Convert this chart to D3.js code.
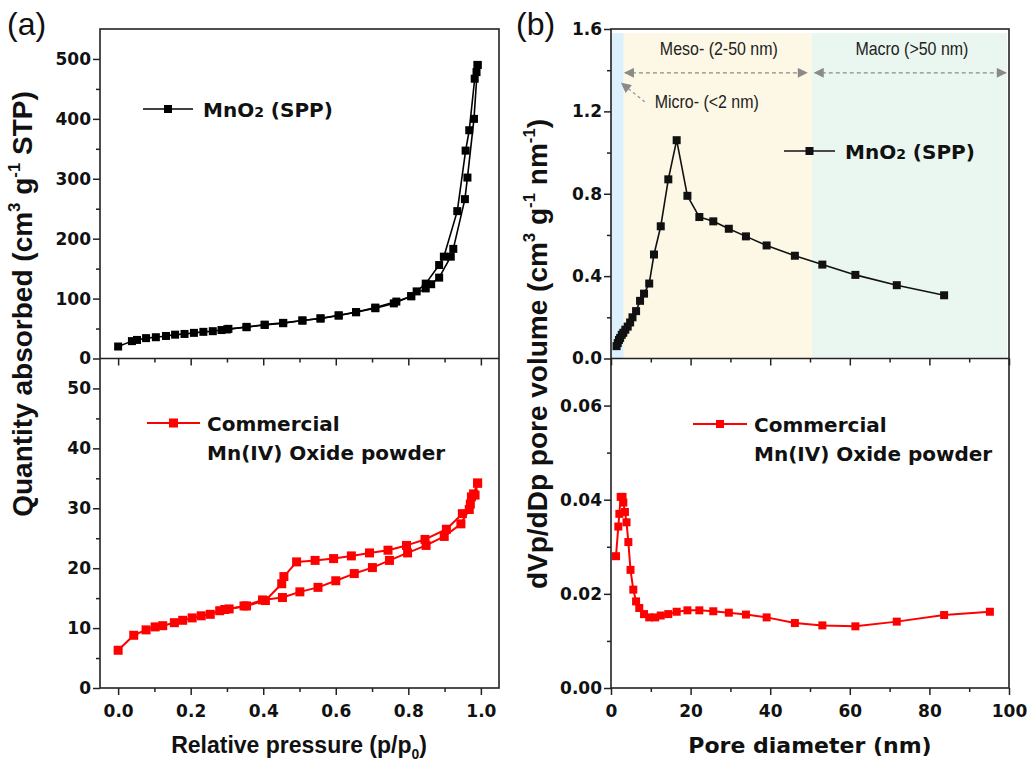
<!DOCTYPE html>
<html lang="en">
<head>
<meta charset="UTF-8">
<title>MnO2 isotherms and pore size distribution</title>
<style>
  body { margin: 0; background: #fff; }
  .tk text { font-family: "DejaVu Sans", sans-serif; font-weight: bold; font-size: 17px; fill: #111; }
  .tk line { stroke: #222; stroke-width: 1.5; }
</style>
</head>
<body>
<svg width="1027" height="764"></svg>
<script src="https://d3js.org/d3.v7.min.js"></script>
<script>
// ---- data ----
// (a) top: MnO2 (SPP) isotherm
var sppAdsP = [0.0, 0.038, 0.052, 0.077, 0.104, 0.132, 0.157, 0.183, 0.209, 0.235, 0.261, 0.285, 0.304, 0.354, 0.404, 0.455, 0.508, 0.558, 0.608, 0.656, 0.709, 0.760, 0.808, 0.848, 0.863, 0.885, 0.917, 0.924, 0.956, 0.963, 0.981, 0.991];
var sppAdsV = [20, 29, 31, 34, 35.5, 37.6, 39.8, 41, 42.8, 44.5, 45.6, 47.5, 49.5, 52.2, 56, 58.9, 63.3, 66.7, 71.7, 77.2, 83.9, 92, 104, 117, 124, 135, 170, 183, 266, 302, 400, 490];
var sppDesP = [0.991, 0.988, 0.983, 0.968, 0.958, 0.935, 0.898, 0.885, 0.848, 0.823, 0.808, 0.767, 0.709, 0.656, 0.608, 0.558, 0.508, 0.455, 0.404, 0.354, 0.300];
var sppDesV = [490, 478, 467, 381, 347, 246, 170, 156, 125, 112, 104, 95, 85, 77.5, 72, 67, 63.5, 59.5, 56.5, 52.8, 48.5];

// (a) bottom: commercial Mn(IV) oxide isotherm
var comAdsP = [0.0, 0.043, 0.077, 0.102, 0.123, 0.155, 0.178, 0.204, 0.229, 0.254, 0.280, 0.306, 0.347, 0.398, 0.453, 0.501, 0.551, 0.600, 0.651, 0.701, 0.748, 0.798, 0.849, 0.899, 0.945, 0.968, 0.974, 0.984, 0.991];
var comAdsV = [6.3, 8.8, 9.7, 10.2, 10.4, 10.9, 11.3, 11.7, 12.05, 12.3, 12.9, 13.2, 13.7, 14.7, 15.1, 16.05, 16.8, 17.9, 19.1, 20.1, 21.3, 22.55, 23.8, 25.3, 27.4, 29.8, 31.9, 32.2, 34.2];
var comDesP = [0.991, 0.980, 0.971, 0.949, 0.905, 0.846, 0.795, 0.744, 0.693, 0.643, 0.594, 0.543, 0.492, 0.457, 0.451, 0.406, 0.354, 0.294];
var comDesV = [34.2, 32.4, 30.7, 29.1, 26.5, 24.8, 23.8, 23.0, 22.55, 22.05, 21.6, 21.3, 21.05, 18.6, 17.4, 14.6, 13.7, 13.1];

// (b) top: MnO2 (SPP) pore size distribution
var sppD = [1.4, 1.7, 2.0, 2.3, 2.7, 3.1, 3.6, 4.2, 4.8, 5.4, 6.3, 7.3, 8.3, 9.6, 10.8, 12.5, 14.4, 16.5, 19.2, 22.2, 25.7, 29.6, 33.9, 39.1, 46.2, 53.1, 61.4, 71.8, 83.7];
var sppPV = [0.06, 0.075, 0.09, 0.10, 0.115, 0.125, 0.14, 0.155, 0.175, 0.2, 0.23, 0.28, 0.315, 0.364, 0.505, 0.642, 0.87, 1.06, 0.79, 0.687, 0.666, 0.63, 0.593, 0.549, 0.499, 0.456, 0.406, 0.356, 0.307];

// (b) bottom: commercial pore size distribution
var comD = [1.26, 1.84, 2.1, 2.43, 2.9, 3.1, 3.5, 3.9, 4.36, 4.9, 5.6, 6.3, 7.1, 8.3, 9.6, 11.1, 12.5, 14.4, 16.5, 19.2, 22.2, 25.7, 29.6, 33.9, 39.1, 46.2, 53.1, 61.4, 71.8, 83.7, 95.2];
var comPV = [0.028, 0.0343, 0.037, 0.0406, 0.0406, 0.0394, 0.0374, 0.0352, 0.031, 0.0251, 0.0209, 0.0184, 0.017, 0.0157, 0.015, 0.015, 0.0154, 0.0157, 0.0162, 0.0165, 0.0165, 0.0163, 0.016, 0.0156, 0.015, 0.0138, 0.0133, 0.0131, 0.0141, 0.0155, 0.0162];

// pore regions (nm)
var zoneEdges = [0, 3.2, 50.5, 100];
var zoneColors = ["#dcf1fb", "#fdf7e5", "#eaf7f0"];

// tick values
var pTicks = [0, 0.2, 0.4, 0.6, 0.8, 1.0], pMinor = [0.1, 0.3, 0.5, 0.7, 0.9];
var qTopTicks = [0, 100, 200, 300, 400, 500], qTopMinor = [50, 150, 250, 350, 450];
var qBotTicks = [0, 10, 20, 30, 40, 50], qBotMinor = [5, 15, 25, 35, 45];
var dTicks = [0, 20, 40, 60, 80, 100], dMinor = [10, 30, 50, 70, 90];
var vTopTicks = [0, 0.4, 0.8, 1.2, 1.6], vTopMinor = [0.2, 0.6, 1.0, 1.4];
var vBotTicks = [0, 0.02, 0.04, 0.06], vBotMinor = [0.01, 0.03, 0.05];

var svg = d3.select("svg");

function translate(x, y) { return "translate(" + x + "," + y + ")"; }
function pairs(xs, ys) { return xs.map(function(x, i) { return [x, ys[i]]; }); }

// scales
var midY = 358.5;
var xP = d3.scaleLinear().domain([-0.05, 1.05]).range([100, 499]);
var yQTop = d3.scaleLinear().domain([0, 550]).range([midY, 29]);
var yQBot = d3.scaleLinear().domain([0, 55]).range([688, midY]);
var xD = d3.scaleLinear().domain([0, 100]).range([611, 1009]);
var yVTop = d3.scaleLinear().domain([0, 1.6]).range([midY, 29]);
var yVBot = d3.scaleLinear().domain([0, 0.07]).range([688, midY]);

// region shading in (b)
svg.selectAll(".zone").data(zoneColors).enter().append("rect")
    .attr("x", function(d, i) { return xD(zoneEdges[i]); })
    .attr("width", function(d, i) { return xD(zoneEdges[i + 1]) - xD(zoneEdges[i]) - (i == 2 ? 2 : 0); })
    .attr("y", yVTop(1.58))
    .attr("height", yVTop(0) - yVTop(1.58))
    .attr("fill", function(d) { return d; });

function drawSeries(xs, ys, xScale, yScale, color, lw, ms) {
    var line = d3.line().x(function(d) { return xScale(d[0]); }).y(function(d) { return yScale(d[1]); });
    var data = pairs(xs, ys);
    svg.append("path").datum(data).attr("d", line)
        .attr("fill", "none").attr("stroke", color).attr("stroke-width", lw).attr("stroke-linejoin", "round");
    svg.append("g").selectAll("rect").data(data).enter().append("rect")
        .attr("x", function(d) { return xScale(d[0]) - ms / 2; })
        .attr("y", function(d) { return yScale(d[1]) - ms / 2; })
        .attr("width", ms).attr("height", ms).attr("fill", color);
}

drawSeries(sppAdsP, sppAdsV, xP, yQTop, "#000", 1.6, 8);
drawSeries(sppDesP, sppDesV, xP, yQTop, "#000", 1.6, 8);
drawSeries(comAdsP, comAdsV, xP, yQBot, "#ff0000", 2, 9);
drawSeries(comDesP, comDesV, xP, yQBot, "#ff0000", 2, 9);
drawSeries(sppD, sppPV, xD, yVTop, "#111", 1.6, 8);
drawSeries(comD, comPV, xD, yVBot, "#ff0000", 2, 8);

// annotations in (b) top
var grey = "#8a8a8a";
var defs = svg.append("defs");
defs.append("marker").attr("id", "ah").attr("viewBox", "0 0 10 10").attr("refX", 9).attr("refY", 5)
    .attr("markerWidth", 16).attr("markerHeight", 10).attr("markerUnits", "userSpaceOnUse")
    .attr("orient", "auto-start-reverse")
  .append("path").attr("d", "M0,0L10,5L0,10z").attr("fill", grey);

var arrows = [[3.5, 49.2, 1.387], [51.2, 99.2, 1.387]];
arrows.forEach(function(a) {
    svg.append("line").attr("x1", xD(a[0])).attr("x2", xD(a[1])).attr("y1", yVTop(a[2])).attr("y2", yVTop(a[2]))
        .attr("stroke", grey).attr("stroke-width", 1.3).attr("stroke-dasharray", "4,3")
        .attr("marker-start", "url(#ah)").attr("marker-end", "url(#ah)");
});
svg.append("line").attr("x1", xD(8.5)).attr("y1", yVTop(1.246)).attr("x2", xD(2.7)).attr("y2", yVTop(1.336))
    .attr("stroke", grey).attr("stroke-width", 1.2).attr("stroke-dasharray", "3,3")
    .attr("marker-end", "url(#ah)");

// region labels: narrow face squeezed to the widths seen in the figure
var noteFont = "'Liberation Sans Narrow', 'Liberation Sans', Arial, sans-serif";
function note(x, y, anchor, len, s) {
    svg.append("text").attr("x", x).attr("y", y).attr("text-anchor", anchor)
        .attr("textLength", len).attr("lengthAdjust", "spacingAndGlyphs")
        .style("font-family", noteFont).style("font-size", "19px").attr("fill", "#222").text(s);
}
note(xD(27.1), yVTop(1.474), "middle", 118, "Meso- (2-50 nm)");
note(xD(75.6), yVTop(1.474), "middle", 113, "Macro (>50 nm)");
note(xD(11), yVTop(1.217), "start", 104, "Micro- (<2 nm)");

// frames
[[100, 499], [611, 1009]].forEach(function(f) {
    svg.append("rect").attr("x", f[0]).attr("y", 29).attr("width", f[1] - f[0]).attr("height", 688 - 29)
        .attr("fill", "none").attr("stroke", "#222").attr("stroke-width", 1.6);
    svg.append("line").attr("x1", f[0]).attr("x2", f[1]).attr("y1", midY).attr("y2", midY)
        .attr("stroke", "#222").attr("stroke-width", 1.6);
});

// axes
function axis(gen, x, y, major, minor, fmt, pad) {
    var g = svg.append("g").attr("class", "tk").attr("transform", translate(x, y));
    g.call(gen.tickValues(major).tickSize(7).tickPadding(pad).tickFormat(fmt));
    g.append("g").call(gen.tickValues(minor).tickSize(4).tickFormat(""));
    g.selectAll(".domain").remove();
    return g;
}
var f0 = d3.format("d"), f1 = d3.format(".1f"), f2 = d3.format(".2f");
axis(d3.axisLeft(yQTop), 100, 0, qTopTicks, qTopMinor, f0, 2);
axis(d3.axisLeft(yQBot), 100, 0, qBotTicks, qBotMinor, f0, 2);
axis(d3.axisBottom(xP), 0, 688, pTicks, pMinor, f1, 10);
axis(d3.axisBottom(xP), 0, midY, pTicks, pMinor, "", 0);
axis(d3.axisLeft(yVTop), 611, 0, vTopTicks, vTopMinor, f1, 2);
axis(d3.axisLeft(yVBot), 611, 0, vBotTicks, vBotMinor, f2, 2);
axis(d3.axisBottom(xD), 0, 688, dTicks, dMinor, f0, 10);
axis(d3.axisBottom(xD), 0, midY, dTicks, dMinor, "", 0);

// legends
var legFont = "'DejaVu Sans', sans-serif";
function legend(x1, x2, y, color, lw, ms, lines, sub) {
    svg.append("line").attr("x1", x1).attr("x2", x2).attr("y1", y).attr("y2", y)
        .attr("stroke", color).attr("stroke-width", lw);
    svg.append("rect").attr("x", (x1 + x2) / 2 - ms / 2).attr("y", y - ms / 2).attr("width", ms).attr("height", ms).attr("fill", color);
    var t = svg.append("text").attr("x", x2 + 10).attr("y", y + 8)
        .style("font-family", legFont).style("font-weight", "bold").style("font-size", "20px").attr("fill", "#111");
    if (sub) {
        t.append("tspan").text("MnO");
        t.append("tspan").style("font-size", "14px").text("2");
        t.append("tspan").text(" (SPP)");
    } else {
        lines.forEach(function(s, i) {
            t.append("tspan").attr("x", x2 + 7).attr("dy", i == 0 ? 0 : 29).text(s);
        });
    }
}
legend(143, 193, 109, "#000", 1.6, 8, null, true);
legend(147, 200, 423, "#ff0000", 2, 9, ["Commercial", "Mn(IV) Oxide powder"], false);
legend(784, 835, 151, "#111", 1.6, 8, null, true);
legend(693, 747, 424, "#ff0000", 2, 8, ["Commercial", "Mn(IV) Oxide powder"], false);

// axis titles
var titleFont = "'Liberation Sans', Arial, sans-serif";
function title(x, y, rot, parts, family, size) {
    var t = svg.append("text").attr("text-anchor", "middle")
        .attr("transform", translate(x, y) + (rot ? " rotate(-90)" : ""))
        .style("font-family", family).style("font-weight", "bold").style("font-size", size + "px").attr("fill", "#111");
    parts.forEach(function(p) {
        var s = t.append("tspan").text(p[0]);
        if (p[1] == "sup") s.style("font-size", (size * 0.6) + "px").attr("dy", -size * 0.42);
        if (p[1] == "sub") s.style("font-size", (size * 0.6) + "px").attr("dy", size * 0.25);
        if (p[1] == "back") s.attr("dy", size * 0.42);
        if (p[1] == "backsub") s.attr("dy", -size * 0.25);
    });
}
title(299, 753, false, [["Relative pressure (p/p"], ["0", "sub"], [")", "backsub"]], titleFont, 23);
title(810, 753, false, [["Pore diameter (nm)"]], legFont, 22);
title(32, 304, true, [["Quantity absorbed (cm"], ["3", "sup"], [" g", "back"], ["-1", "sup"], [" STP)", "back"]], titleFont, 28);
title(547, 354, true, [["dVp/dDp pore volume (cm"], ["3", "sup"], [" g", "back"], ["-1", "sup"], [" nm", "back"], ["-1", "sup"], [")", "back"]], titleFont, 28);

// panel labels
svg.append("text").attr("x", 7).attr("y", 35).style("font-family", titleFont).style("font-size", "32px").attr("fill", "#111").text("(a)");
svg.append("text").attr("x", 516).attr("y", 35).style("font-family", titleFont).style("font-size", "32px").attr("fill", "#111").text("(b)");
</script>
</body>
</html>
